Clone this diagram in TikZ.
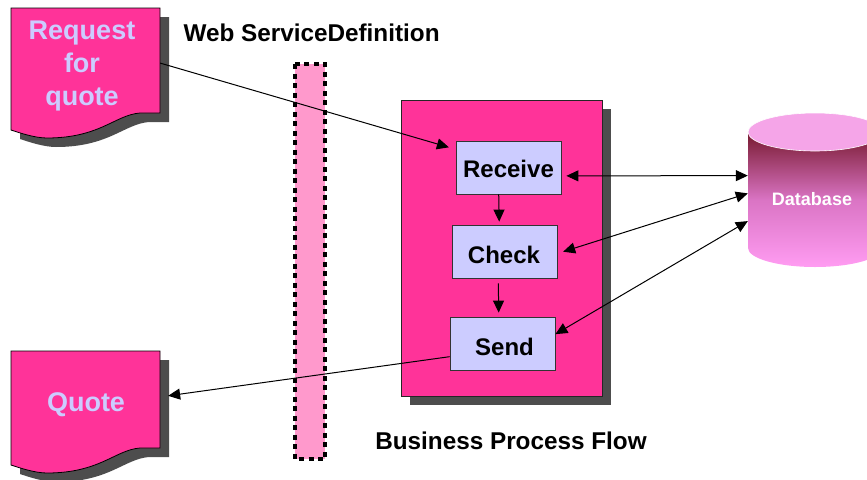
\documentclass[tikz,border=0pt]{standalone}
\usepackage{fontspec}
\setmainfont{Liberation Sans}
\usetikzlibrary{arrows.meta}

\definecolor{flowpink}{HTML}{FF3399}
\definecolor{barpink}{HTML}{FF99CC}
\definecolor{boxblue}{HTML}{CCCCFF}
\definecolor{shadowgrey}{HTML}{4D4D4D}
\definecolor{dbtop}{HTML}{F5A5E8}
\definecolor{dbdark}{HTML}{781A30}
\definecolor{dbmid}{HTML}{DA74C4}
\definecolor{dblight}{HTML}{FF9CF2}

\tikzset{
  step node/.style={draw=black!80, fill=boxblue, line width=0.8pt, minimum width=105pt, minimum height=53pt, inner sep=0pt, text height=24pt, text depth=0pt, font=\fontsize{24}{28}\selectfont\bfseries},
  doc node/.style={minimum width=149pt, inner sep=0pt},
  doc text/.style={text=boxblue, align=center, font=\fontsize{27}{33}\selectfont\bfseries},
  title text/.style={font=\fontsize{24.3}{28}\selectfont\bfseries},
  flow/.style={line width=1pt, -{Triangle[length=12pt,width=11pt]}},
  both/.style={line width=1pt, {Triangle[length=12pt,width=11pt]}-{Triangle[length=12pt,width=11pt]}}
}

% #1 top edge, #2 lower edge at the right side
\newcommand{\docshape}[2]{
  \fill[shadowgrey, shift={(9,9)}] (11,#1) -- (160,#1) -- (160,#2) -- (140,#2) .. controls (115,#2+2) and (100,#2+25) .. (47,#2+25) .. controls (35,#2+25) and (20,#2+20) .. (11,#2+17) -- cycle;
  \draw[fill=flowpink, line width=0.8pt] (11,#1) -- (160,#1) -- (160,#2) -- (140,#2) .. controls (115,#2+2) and (100,#2+25) .. (47,#2+25) .. controls (35,#2+25) and (20,#2+20) .. (11,#2+17) -- cycle;
}

\begin{document}
\begin{tikzpicture}[x=1pt, y=-1pt]
   \useasboundingbox (0,0) rectangle (867,479);

   \docshape{8}{113}
   \docshape{351}{448}
   \node[doc node, minimum height=105pt] (request) at (85.5,60.5) {};
   \node[doc node, minimum height=97pt]  (quote)   at (85.5,399.5) {};
   \node[doc text] (requestlabel) at (82,66) {Request\\for\\quote};
   \node[doc text] (quotelabel)   at (86,405) {Quote};

   \node[title text, anchor=west] (wsdl) at (180,33) {Web ServiceDefinition};
   \node[title text] (bpf) at (511,441) {Business Process Flow};

   \draw[fill=barpink, line width=4.6pt, dash pattern=on 5pt off 4.5pt] (295,64) rectangle (325,459);

   \fill[shadowgrey] (410,109) rectangle (611,405);
   \draw[fill=flowpink, draw=black!85, line width=0.8pt] (401,100) rectangle (602,396);

   \node[step node, text height=20pt] (receive) at (508.5,167.5) {Receive};
   \node[step node] (check)   at (505,251.5)   {Check\hspace*{2pt}};
   \node[step node] (send)    at (502.5,343.5) {\hspace*{4pt}Send};

   \shade[top color=dbdark, bottom color=dblight, middle color=dbmid] (748,133) -- (748,248) arc[start angle=180, end angle=0, x radius=67, y radius=19] -- (882,133) -- cycle;
   \draw[fill=dbtop, draw=white, line width=0.6pt] (815,132) ellipse[x radius=67, y radius=19];
   \node[minimum width=128pt, minimum height=154pt, inner sep=0pt, text=white, font=\fontsize{18}{22}\selectfont\bfseries] (database) at (812,199) {Database};

   \draw[flow, shorten >=7pt] (request.-2.7) -- (receive.161.6);
   \draw[flow, shorten >=8pt] (send.194.4) -- (quote.2.7);
   \draw[flow, shorten >=3pt] (receive.250.3) -- (check.102.8);
   \draw[flow, shorten <=5pt, shorten >=4pt] (check.256.2) -- (send.98.6);
   \draw[both, shorten <=5pt] (receive.-9.2) -- (database.160.2);
   \draw[both, shorten <=5.5pt] (check.-2.3) -- (database.175.5);
   \draw[both] (send.10) -- (database.199.8);
\end{tikzpicture}
\end{document}
